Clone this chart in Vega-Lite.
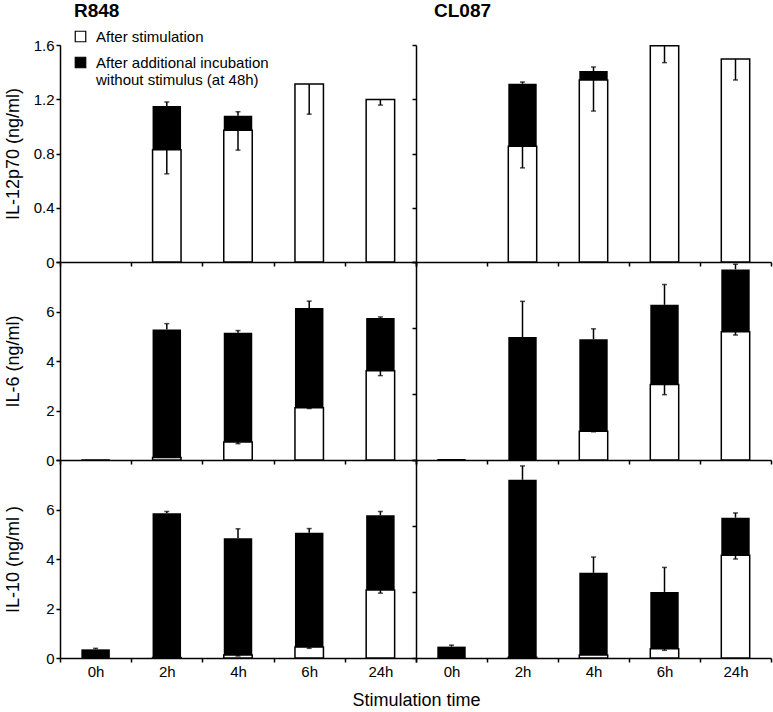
{
  "$schema": "https://vega.github.io/schema/vega-lite/v6.json",
  "padding": {"left": 4, "top": 2, "right": 3, "bottom": 0},
  "background": "white",
  "datasets": {
    "d": [
      {"c": "IL12", "s": "R848", "t": "2h", "b": 1.15, "bh": 1.18, "w": 0.827, "wl": 0.65},
      {"c": "IL12", "s": "R848", "t": "4h", "b": 1.078, "bh": 1.108, "w": 0.972, "wl": 0.825},
      {"c": "IL12", "s": "R848", "t": "6h", "w": 1.312, "wl": 1.09},
      {"c": "IL12", "s": "R848", "t": "24h", "w": 1.199, "wl": 1.157},
      {"c": "IL12", "s": "CL087", "t": "2h", "b": 1.314, "bh": 1.327, "w": 0.854, "wl": 0.694},
      {"c": "IL12", "s": "CL087", "t": "4h", "b": 1.408, "bh": 1.438, "w": 1.342, "wl": 1.113},
      {"c": "IL12", "s": "CL087", "t": "6h", "w": 1.595, "wl": 1.47},
      {"c": "IL12", "s": "CL087", "t": "24h", "w": 1.497, "wl": 1.342},
      {"c": "IL6", "s": "R848", "t": "0h", "b": 0.03},
      {"c": "IL6", "s": "R848", "t": "2h", "b": 5.27, "bh": 5.51, "w": 0.1},
      {"c": "IL6", "s": "R848", "t": "4h", "b": 5.14, "bh": 5.23, "w": 0.73, "wl": 0.66},
      {"c": "IL6", "s": "R848", "t": "6h", "b": 6.14, "bh": 6.42, "w": 2.11, "wl": 2.08},
      {"c": "IL6", "s": "R848", "t": "24h", "b": 5.74, "bh": 5.78, "w": 3.61, "wl": 3.41},
      {"c": "IL6", "s": "CL087", "t": "0h", "b": 0.04},
      {"c": "IL6", "s": "CL087", "t": "2h", "b": 4.97, "bh": 6.41},
      {"c": "IL6", "s": "CL087", "t": "4h", "b": 4.88, "bh": 5.30, "w": 1.16, "wl": 1.14},
      {"c": "IL6", "s": "CL087", "t": "6h", "b": 6.27, "bh": 7.09, "w": 3.05, "wl": 2.64},
      {"c": "IL6", "s": "CL087", "t": "24h", "b": 7.70, "bh": 7.91, "w": 5.18, "wl": 5.05},
      {"c": "IL10", "s": "R848", "t": "0h", "b": 0.35, "bh": 0.39},
      {"c": "IL10", "s": "R848", "t": "2h", "b": 5.85, "bh": 5.92, "w": 0.02},
      {"c": "IL10", "s": "R848", "t": "4h", "b": 4.84, "bh": 5.22, "w": 0.12, "wl": 0.08},
      {"c": "IL10", "s": "R848", "t": "6h", "b": 5.06, "bh": 5.23, "w": 0.44, "wl": 0.39},
      {"c": "IL10", "s": "R848", "t": "24h", "b": 5.77, "bh": 5.92, "w": 2.75, "wl": 2.62},
      {"c": "IL10", "s": "CL087", "t": "0h", "b": 0.46, "bh": 0.52},
      {"c": "IL10", "s": "CL087", "t": "2h", "b": 7.2, "bh": 7.76, "w": 0.03},
      {"c": "IL10", "s": "CL087", "t": "4h", "b": 3.44, "bh": 4.08, "w": 0.12},
      {"c": "IL10", "s": "CL087", "t": "6h", "b": 2.67, "bh": 3.66, "w": 0.37, "wl": 0.31},
      {"c": "IL10", "s": "CL087", "t": "24h", "b": 5.67, "bh": 5.86, "w": 4.15, "wl": 4.0}
    ]
  },
  "data": {"name": "d"},
  "config": {
    "font": "Liberation Sans",
    "view": {"stroke": null},
    "axis": {"domainColor": "black", "domainWidth": 1.5, "tickColor": "black", "tickWidth": 1.5, "tickSize": 4, "labelColor": "black", "labelFontSize": 15, "titleColor": "black", "titleFontSize": 18, "titleFontWeight": "normal", "grid": false, "labelPadding": 2},
    "axisX": {"tickBand": "extent", "labelAngle": 0},
    "title": {"fontSize": 19, "fontWeight": "bold", "anchor": "start", "color": "black", "baseline": "alphabetic", "frame": "group"}
  },
  "spacing": 0,
  "bounds": "flush",
  "columns": 2,
  "resolve": {"scale": {"fill": "independent"}, "legend": {"fill": "independent"}},
  "concat": [
    {
      "width": 356, "height": 217,
      "title": {"text": "R848", "dx": 14, "offset": 8},
      "transform": [{"filter": "datum.c == 'IL12' && datum.s == 'R848'"}],
      "encoding": {"x": {"field": "t", "type": "ordinal", "scale": {"domain": ["0h", "2h", "4h", "6h", "24h"], "paddingInner": 0, "paddingOuter": 0}, "axis": {"labels": false, "title": null}}},
      "layer": [
        {"transform": [{"filter": "isValid(datum.b)"}], "mark": {"type": "bar", "width": {"band": 0.4}},
         "encoding": {
           "y": {"field": "b", "type": "quantitative", "scale": {"domain": [0, 1.6], "nice": false}, "axis": {"values": [0, 0.4, 0.8, 1.2, 1.6], "labelExpr": "datum.value == 0 ? '0' : format(datum.value, '.1f')", "title": "IL-12p70 (ng/ml)", "titleX": -38}},
           "fill": {"datum": "After additional incubation without stimulus (at 48h)", "type": "nominal", "scale": {"domain": ["After stimulation", "After additional incubation without stimulus (at 48h)"], "range": ["white", "black"]},
             "legend": {"orient": "none", "legendX": 13, "legendY": -16, "title": null, "symbolType": "square", "symbolSize": 110, "symbolStrokeColor": "black", "symbolStrokeWidth": 1.2, "labelFontSize": 15, "labelColor": "black", "labelOffset": 8, "labelLimit": 400, "rowPadding": 9, "labelExpr": "datum.label == 'After stimulation' ? datum.label : ['After additional incubation', 'without stimulus (at 48h)']"}}
         }},
        {"transform": [{"filter": "isValid(datum.bh)"}], "mark": {"type": "rule", "color": "black", "strokeWidth": 1.5}, "encoding": {"y": {"field": "b", "type": "quantitative"}, "y2": {"field": "bh"}}},
        {"transform": [{"filter": "isValid(datum.bh)"}], "mark": {"type": "tick", "color": "black", "size": 5, "thickness": 1.5}, "encoding": {"y": {"field": "bh", "type": "quantitative"}}},
        {"transform": [{"filter": "isValid(datum.w)"}], "mark": {"type": "bar", "width": {"band": 0.4}, "stroke": "black", "strokeWidth": 1.5},
         "encoding": {"y": {"field": "w", "type": "quantitative"}, "fill": {"datum": "After stimulation", "type": "nominal"}}},
        {"transform": [{"filter": "isValid(datum.wl)"}], "mark": {"type": "rule", "color": "black", "strokeWidth": 1.5}, "encoding": {"y": {"field": "w", "type": "quantitative"}, "y2": {"field": "wl"}}},
        {"transform": [{"filter": "isValid(datum.wl)"}], "mark": {"type": "tick", "color": "black", "size": 5, "thickness": 1.5}, "encoding": {"y": {"field": "wl", "type": "quantitative"}}}
      ]
    },
    {
      "width": 355, "height": 217,
      "title": {"text": "CL087", "dx": 18, "offset": 23},
      "transform": [{"filter": "datum.c == 'IL12' && datum.s == 'CL087'"}],
      "encoding": {"x": {"field": "t", "type": "ordinal", "scale": {"domain": ["0h", "2h", "4h", "6h", "24h"], "paddingInner": 0, "paddingOuter": 0}, "axis": {"labels": false, "title": null}}},
      "layer": [
        {"transform": [{"filter": "isValid(datum.b)"}], "mark": {"type": "bar", "width": {"band": 0.4}, "fill": "black"},
         "encoding": {"y": {"field": "b", "type": "quantitative", "scale": {"domain": [0, 1.6], "nice": false}, "axis": {"values": [0, 0.4, 0.8, 1.2, 1.6], "labels": false, "title": null}}}},
        {"transform": [{"filter": "isValid(datum.bh)"}], "mark": {"type": "rule", "color": "black", "strokeWidth": 1.5}, "encoding": {"y": {"field": "b", "type": "quantitative"}, "y2": {"field": "bh"}}},
        {"transform": [{"filter": "isValid(datum.bh)"}], "mark": {"type": "tick", "color": "black", "size": 5, "thickness": 1.5}, "encoding": {"y": {"field": "bh", "type": "quantitative"}}},
        {"transform": [{"filter": "isValid(datum.w)"}], "mark": {"type": "bar", "width": {"band": 0.4}, "fill": "white", "stroke": "black", "strokeWidth": 1.5}, "encoding": {"y": {"field": "w", "type": "quantitative"}}},
        {"transform": [{"filter": "isValid(datum.wl)"}], "mark": {"type": "rule", "color": "black", "strokeWidth": 1.5}, "encoding": {"y": {"field": "w", "type": "quantitative"}, "y2": {"field": "wl"}}},
        {"transform": [{"filter": "isValid(datum.wl)"}], "mark": {"type": "tick", "color": "black", "size": 5, "thickness": 1.5}, "encoding": {"y": {"field": "wl", "type": "quantitative"}}}
      ]
    },
    {
      "width": 356, "height": 198,
      "transform": [{"filter": "datum.c == 'IL6' && datum.s == 'R848'"}],
      "encoding": {"x": {"field": "t", "type": "ordinal", "scale": {"domain": ["0h", "2h", "4h", "6h", "24h"], "paddingInner": 0, "paddingOuter": 0}, "axis": {"labels": false, "title": null}}},
      "layer": [
        {"transform": [{"filter": "isValid(datum.b)"}], "mark": {"type": "bar", "width": {"band": 0.4}, "fill": "black"},
         "encoding": {"y": {"field": "b", "type": "quantitative", "scale": {"domain": [0, 8], "nice": false}, "axis": {"values": [0, 2, 4, 6, 8], "labelExpr": "datum.value == 8 ? '' : datum.label", "title": "IL-6 (ng/ml)", "titleX": -38}}}},
        {"transform": [{"filter": "isValid(datum.bh)"}], "mark": {"type": "rule", "color": "black", "strokeWidth": 1.5}, "encoding": {"y": {"field": "b", "type": "quantitative"}, "y2": {"field": "bh"}}},
        {"transform": [{"filter": "isValid(datum.bh)"}], "mark": {"type": "tick", "color": "black", "size": 5, "thickness": 1.5}, "encoding": {"y": {"field": "bh", "type": "quantitative"}}},
        {"transform": [{"filter": "isValid(datum.w)"}], "mark": {"type": "bar", "width": {"band": 0.4}, "fill": "white", "stroke": "black", "strokeWidth": 1.5}, "encoding": {"y": {"field": "w", "type": "quantitative"}}},
        {"transform": [{"filter": "isValid(datum.wl)"}], "mark": {"type": "rule", "color": "black", "strokeWidth": 1.5}, "encoding": {"y": {"field": "w", "type": "quantitative"}, "y2": {"field": "wl"}}},
        {"transform": [{"filter": "isValid(datum.wl)"}], "mark": {"type": "tick", "color": "black", "size": 5, "thickness": 1.5}, "encoding": {"y": {"field": "wl", "type": "quantitative"}}}
      ]
    },
    {
      "width": 355, "height": 198,
      "transform": [{"filter": "datum.c == 'IL6' && datum.s == 'CL087'"}],
      "encoding": {"x": {"field": "t", "type": "ordinal", "scale": {"domain": ["0h", "2h", "4h", "6h", "24h"], "paddingInner": 0, "paddingOuter": 0}, "axis": {"labels": false, "title": null}}},
      "layer": [
        {"transform": [{"filter": "isValid(datum.b)"}], "mark": {"type": "bar", "width": {"band": 0.4}, "fill": "black"},
         "encoding": {"y": {"field": "b", "type": "quantitative", "scale": {"domain": [0, 8], "nice": false}, "axis": {"values": [0, 2.6667, 5.3333, 8], "labels": false, "title": null}}}},
        {"transform": [{"filter": "isValid(datum.bh)"}], "mark": {"type": "rule", "color": "black", "strokeWidth": 1.5}, "encoding": {"y": {"field": "b", "type": "quantitative"}, "y2": {"field": "bh"}}},
        {"transform": [{"filter": "isValid(datum.bh)"}], "mark": {"type": "tick", "color": "black", "size": 5, "thickness": 1.5}, "encoding": {"y": {"field": "bh", "type": "quantitative"}}},
        {"transform": [{"filter": "isValid(datum.w)"}], "mark": {"type": "bar", "width": {"band": 0.4}, "fill": "white", "stroke": "black", "strokeWidth": 1.5}, "encoding": {"y": {"field": "w", "type": "quantitative"}}},
        {"transform": [{"filter": "isValid(datum.wl)"}], "mark": {"type": "rule", "color": "black", "strokeWidth": 1.5}, "encoding": {"y": {"field": "w", "type": "quantitative"}, "y2": {"field": "wl"}}},
        {"transform": [{"filter": "isValid(datum.wl)"}], "mark": {"type": "tick", "color": "black", "size": 5, "thickness": 1.5}, "encoding": {"y": {"field": "wl", "type": "quantitative"}}}
      ]
    },
    {
      "width": 356, "height": 198,
      "transform": [{"filter": "datum.c == 'IL10' && datum.s == 'R848'"}],
      "encoding": {"x": {"field": "t", "type": "ordinal", "scale": {"domain": ["0h", "2h", "4h", "6h", "24h"], "paddingInner": 0, "paddingOuter": 0}, "axis": {"title": "Stimulation time", "titleX": 356, "titleAlign": "center", "titlePadding": 12}}},
      "layer": [
        {"transform": [{"filter": "isValid(datum.b)"}], "mark": {"type": "bar", "width": {"band": 0.4}, "fill": "black"},
         "encoding": {"y": {"field": "b", "type": "quantitative", "scale": {"domain": [0, 8], "nice": false}, "axis": {"values": [0, 2, 4, 6, 8], "labelExpr": "datum.value == 8 ? '' : datum.label", "title": "IL-10 (ng/ml )", "titleX": -38}}}},
        {"transform": [{"filter": "isValid(datum.bh)"}], "mark": {"type": "rule", "color": "black", "strokeWidth": 1.5}, "encoding": {"y": {"field": "b", "type": "quantitative"}, "y2": {"field": "bh"}}},
        {"transform": [{"filter": "isValid(datum.bh)"}], "mark": {"type": "tick", "color": "black", "size": 5, "thickness": 1.5}, "encoding": {"y": {"field": "bh", "type": "quantitative"}}},
        {"transform": [{"filter": "isValid(datum.w)"}], "mark": {"type": "bar", "width": {"band": 0.4}, "fill": "white", "stroke": "black", "strokeWidth": 1.5}, "encoding": {"y": {"field": "w", "type": "quantitative"}}},
        {"transform": [{"filter": "isValid(datum.wl)"}], "mark": {"type": "rule", "color": "black", "strokeWidth": 1.5}, "encoding": {"y": {"field": "w", "type": "quantitative"}, "y2": {"field": "wl"}}},
        {"transform": [{"filter": "isValid(datum.wl)"}], "mark": {"type": "tick", "color": "black", "size": 5, "thickness": 1.5}, "encoding": {"y": {"field": "wl", "type": "quantitative"}}}
      ]
    },
    {
      "width": 355, "height": 198,
      "transform": [{"filter": "datum.c == 'IL10' && datum.s == 'CL087'"}],
      "encoding": {"x": {"field": "t", "type": "ordinal", "scale": {"domain": ["0h", "2h", "4h", "6h", "24h"], "paddingInner": 0, "paddingOuter": 0}, "axis": {"title": null}}},
      "layer": [
        {"transform": [{"filter": "isValid(datum.b)"}], "mark": {"type": "bar", "width": {"band": 0.4}, "fill": "black"},
         "encoding": {"y": {"field": "b", "type": "quantitative", "scale": {"domain": [0, 8], "nice": false}, "axis": {"values": [0, 2.6667, 5.3333, 8], "labels": false, "title": null}}}},
        {"transform": [{"filter": "isValid(datum.bh)"}], "mark": {"type": "rule", "color": "black", "strokeWidth": 1.5}, "encoding": {"y": {"field": "b", "type": "quantitative"}, "y2": {"field": "bh"}}},
        {"transform": [{"filter": "isValid(datum.bh)"}], "mark": {"type": "tick", "color": "black", "size": 5, "thickness": 1.5}, "encoding": {"y": {"field": "bh", "type": "quantitative"}}},
        {"transform": [{"filter": "isValid(datum.w)"}], "mark": {"type": "bar", "width": {"band": 0.4}, "fill": "white", "stroke": "black", "strokeWidth": 1.5}, "encoding": {"y": {"field": "w", "type": "quantitative"}}},
        {"transform": [{"filter": "isValid(datum.wl)"}], "mark": {"type": "rule", "color": "black", "strokeWidth": 1.5}, "encoding": {"y": {"field": "w", "type": "quantitative"}, "y2": {"field": "wl"}}},
        {"transform": [{"filter": "isValid(datum.wl)"}], "mark": {"type": "tick", "color": "black", "size": 5, "thickness": 1.5}, "encoding": {"y": {"field": "wl", "type": "quantitative"}}}
      ]
    }
  ]
}
